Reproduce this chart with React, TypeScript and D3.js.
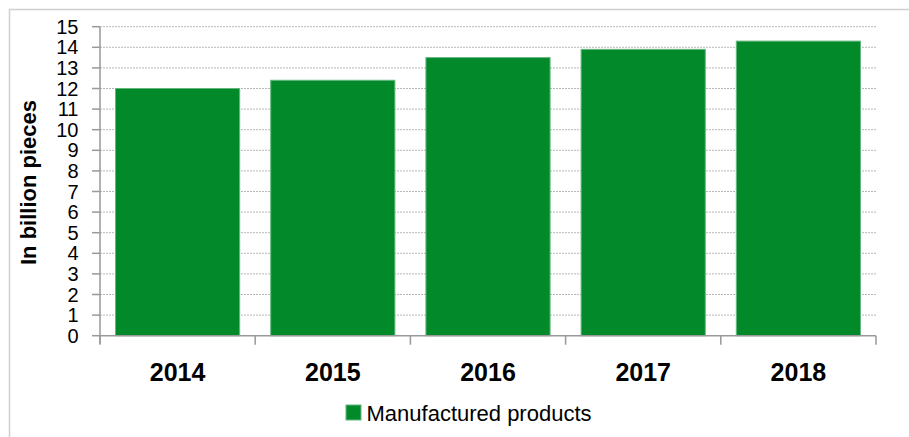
import React from "react";
import * as d3 from "d3";

const categories = ["2014", "2015", "2016", "2017", "2018"];
const values = [12.0, 12.4, 13.5, 13.9, 14.3];
const yTicks = [0, 1, 2, 3, 4, 5, 6, 7, 8, 9, 10, 11, 12, 13, 14, 15];
const seriesName = "Manufactured products";
const yTitle = "In billion pieces";

const W = 909;
const H = 437;
const left = 100;
const right = 876;
const top = 26.7;
const bottom = 335.7;

export default function App() {
  const x = d3.scaleBand<string>().domain(categories).range([left, right]).paddingInner(0.2).paddingOuter(0.1);
  const xb = d3.scaleBand<string>().domain(categories).range([left, right]);
  const y = d3.scaleLinear().domain([0, 15]).range([bottom, top]);
  const font = "'Liberation Sans', Arial, sans-serif";
  const green = "#028a2a";
  const boundaries = [...categories.map((c) => xb(c) as number), right];

  return (
    <svg width={W} height={H} style={{ position: "absolute", left: 0, top: 0 }} fontFamily={font}>
      <rect x={0} y={0} width={W} height={H} fill="#fff" />
      <rect x={9.5} y={9.5} width={1200} height={1200} fill="none" stroke="#d0d0d0" strokeWidth={1.5} />
      {yTicks.map((t) => (
        <g key={t}>
          {t > 0 && (
            <line x1={left} x2={right} y1={y(t)} y2={y(t)} stroke="#b8b8b8" strokeWidth={1} strokeDasharray="2,1" />
          )}
          <line x1={left - 8} x2={left} y1={y(t)} y2={y(t)} stroke="#999" strokeWidth={1.5} />
          <text x={78.5} y={y(t) + 7} textAnchor="end" fontSize={20} fill="#000">
            {t}
          </text>
        </g>
      ))}
      {categories.map((c, i) => (
        <rect
          key={c}
          x={x(c)}
          y={y(values[i])}
          width={x.bandwidth()}
          height={bottom - y(values[i])}
          fill={green}
          stroke="#63b77e"
          strokeWidth={1}
        />
      ))}
      <line x1={left} x2={left} y1={top} y2={bottom + 8} stroke="#999" strokeWidth={1.5} />
      <line x1={left} x2={right} y1={bottom} y2={bottom} stroke="#999" strokeWidth={1.5} />
      {boundaries.map((b, i) => (
        <line key={i} x1={b} x2={b} y1={bottom} y2={bottom + 9} stroke="#999" strokeWidth={1.5} />
      ))}
      {categories.map((c) => (
        <text
          key={c}
          x={(xb(c) as number) + xb.bandwidth() / 2}
          y={381}
          textAnchor="middle"
          fontSize={25}
          fontWeight="bold"
          fill="#000"
        >
          {c}
        </text>
      ))}
      <text
        transform={`translate(36,182.5) rotate(-90)`}
        textAnchor="middle"
        fontSize={22}
        fontWeight="bold"
        fill="#000"
      >
        {yTitle}
      </text>
      <rect x={346} y={405} width={15} height={15} fill={green} stroke="#63b77e" strokeWidth={1} />
      <text x={366.5} y={420.5} fontSize={22} fill="#000">
        {seriesName}
      </text>
    </svg>
  );
}
